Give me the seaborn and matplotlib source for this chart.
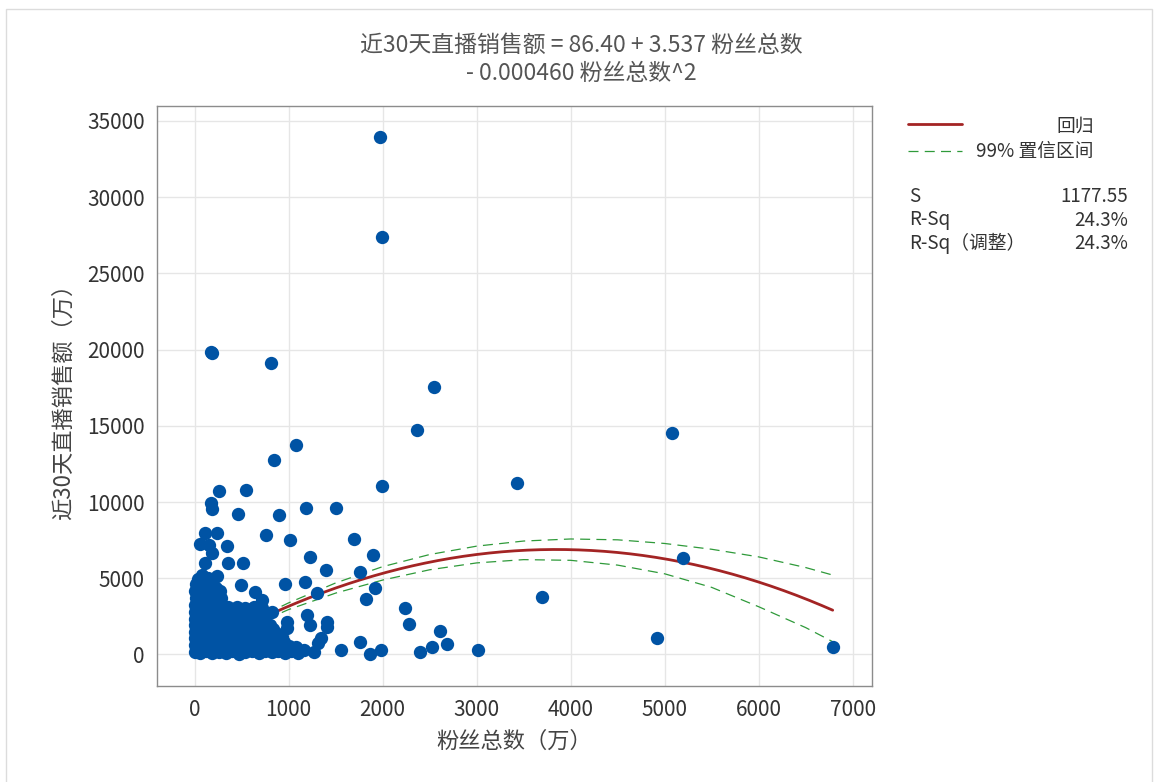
import numpy as np
import pandas as pd
import seaborn as sns
import matplotlib.pyplot as plt
from matplotlib.lines import Line2D
from matplotlib.patches import Rectangle

# scattered points (粉丝总数, 近30天直播销售额)
outlier_fans = [1971, 1992, 170, 182, 812, 2542, 2368, 5074, 1081, 844,
                3429, 1989, 255, 543, 170, 187, 457, 900, 1184, 1500,
                110, 234, 755, 1010, 1698, 56, 150, 345, 181, 1227,
                1900, 5191, 110, 357, 510, 1393, 1759, 74, 237, 496,
                964, 1170, 1918, 638, 1298, 1826, 716, 3698, 2241, 1191,
                2283, 1227, 982, 1404, 1411, 2610, 1340, 1315, 929, 1759,
                4915, 2687, 2521, 2397, 3017, 1556, 1865, 1982, 6787, 822,
                980]
outlier_sales = [33950, 27390, 19830, 19760, 19120, 17530, 14705, 14510, 13720, 12755,
                 11225, 11070, 10740, 10790, 9950, 9560, 9230, 9150, 9590, 9600,
                 7950, 8000, 7835, 7540, 7550, 7250, 7180, 7120, 6640, 6400,
                 6520, 6305, 6000, 5980, 5980, 5520, 5410, 5210, 5120, 4560,
                 4620, 4720, 4380, 4115, 4000, 3660, 3570, 3750, 3045, 2590,
                 2000, 1900, 2145, 2150, 1820, 1560, 1090, 725, 1160, 835,
                 1095, 670, 505, 140, 290, 290, 25, 290, 505, 2800,
                 1730]

# the dense block of small accounts near the origin
cluster_fans = [0, 60, 120, 190, 260, 330, 400, 470, 540, 610, 680, 750, 820, 890, 960, 1030, 1100, 1160, 1270,
                30, 100, 170, 240, 310, 380, 450, 520, 590, 660, 730, 800, 870, 940, 1010,
                0, 70, 140, 210, 280, 350, 420, 490, 560, 630, 700, 770, 840, 910, 1000, 1080,
                40, 110, 190, 260, 340, 410, 490, 560, 640, 710, 790, 870, 950,
                0, 75, 150, 225, 300, 375, 450, 525, 600, 675, 750, 830, 910,
                40, 120, 200, 280, 360, 440, 520, 600, 680, 760, 840,
                0, 80, 160, 240, 320, 400, 480, 560, 640, 720, 800, 870,
                40, 120, 200, 280, 360, 440, 520, 600, 680, 760, 830,
                0, 80, 160, 240, 320, 400, 480, 560, 640, 720, 800,
                40, 120, 200, 280, 360, 440, 520, 600, 680, 760,
                0, 80, 160, 240, 320, 400, 480, 560, 640, 720,
                40, 120, 200, 280, 360, 440, 520, 600, 680,
                0, 80, 160, 240, 320, 400, 480, 560, 640, 700,
                360, 450, 540, 630, 720,
                0, 90, 180, 270,
                50, 140, 230,
                10, 100, 190, 280,
                50, 150, 240,
                0, 90, 180, 270,
                60, 150, 230,
                20, 110, 200,
                40, 140]
cluster_sales = [150, 80, 200, 120, 180, 100, 220, 60, 160, 240, 90, 200, 130, 250, 110, 200, 90, 290, 180,
                 380, 350, 400, 330, 390, 360, 340, 400, 350, 380, 330, 390, 360, 340, 370,
                 600, 520, 580, 500, 620, 540, 600, 520, 580, 500, 610, 540, 580, 500, 560, 480,
                 800, 820, 780, 810, 790, 820, 780, 800, 830, 790, 810, 780, 800,
                 1050, 980, 1020, 960, 1040, 990, 1020, 960, 1050, 990, 1010, 960, 1000,
                 1230, 1250, 1210, 1240, 1220, 1260, 1230, 1210, 1250, 1230, 1220,
                 1450, 1500, 1420, 1480, 1400, 1460, 1500, 1420, 1480, 1440, 1500, 1420,
                 1680, 1700, 1660, 1710, 1690, 1670, 1700, 1680, 1660, 1700, 1690,
                 1900, 1950, 1880, 1920, 1950, 1880, 1920, 1960, 1880, 1920, 1900,
                 2130, 2150, 2110, 2140, 2160, 2120, 2150, 2130, 2110, 2140,
                 2350, 2300, 2380, 2320, 2400, 2340, 2300, 2380, 2320, 2360,
                 2580, 2570, 2600, 2560, 2590, 2580, 2600, 2570, 2590,
                 2800, 2760, 2840, 2780, 2820, 2760, 2840, 2800, 2760, 2850,
                 3080, 3120, 3050, 3100, 3060,
                 3250, 3300, 3220, 3280,
                 3480, 3470, 3500,
                 3700, 3650, 3720, 3680,
                 3930, 3920, 3950,
                 4150, 4200, 4120, 4180,
                 4380, 4400, 4370,
                 4600, 4650, 4580,
                 4950, 5000]

# fitted model from the title
coef = [-0.000460, 3.537, 86.40]

# 99% confidence band, read at a few x positions
ci_fans = [0, 500, 1000, 1500, 2000, 2500, 3000, 3500, 4000, 4500, 5000, 5500, 6000, 6500, 6780]
ci_upper = [270, 1890, 3385, 4690, 5760, 6555, 7105, 7440, 7575, 7520, 7280, 6900, 6400, 5700, 5220]
ci_lower = [-100, 1590, 2945, 4025, 4880, 5555, 6005, 6220, 6175, 5860, 5290, 4400, 3130, 1760, 860]

stats_names = ['S', 'R-Sq', 'R-Sq（调整）']
stats_values = ['1177.55', '24.3%', '24.3%']

sns.set_theme(style='whitegrid')
plt.rcParams['font.family'] = ['Noto Sans CJK SC', 'DejaVu Sans']

df = pd.DataFrame({'fans': outlier_fans + cluster_fans,
                   'sales': outlier_sales + cluster_sales})

xs = np.linspace(df['fans'].min(), df['fans'].max(), 300)
fit = pd.DataFrame({'fans': xs, 'sales': np.polyval(coef, xs)})
band = pd.DataFrame({'fans': ci_fans, 'upper': ci_upper, 'lower': ci_lower})

fig = plt.figure(figsize=(11.58, 7.82), dpi=100)
ax = fig.add_axes([157 / 1158, 1 - 686 / 782, 715 / 1158, 580 / 782])

red = '#a32424'
green = '#2f9a3a'
blue = '#0053a4'

sns.lineplot(data=fit, x='fans', y='sales', color=red, lw=2, ax=ax, zorder=2)
for col in ['upper', 'lower']:
    sns.lineplot(data=band, x='fans', y=col, color=green, lw=0.9,
                 linestyle=(0, (8, 5)), ax=ax, zorder=2)
sns.scatterplot(data=df, x='fans', y='sales', color=blue, s=92,
                linewidth=0, alpha=1, ax=ax, zorder=3)

ax.set_xlim(-400, 7205)
ax.set_ylim(-2070, 35980)
ax.set_xticks(range(0, 7001, 1000))
ax.set_yticks(range(0, 35001, 5000))
ax.grid(color='#e6e6e6', lw=1)
for s in ax.spines.values():
    s.set_color('#8c8c8c')
    s.set_linewidth(1)
ax.tick_params(length=6, width=1, color='#8c8c8c', labelsize=15,
               labelcolor='#333333', pad=3)

ax.set_xlabel('粉丝总数（万）', fontsize=16, color='#444444', labelpad=7)
ax.set_ylabel('近30天直播销售额（万）', fontsize=16, color='#444444', labelpad=9)

fig.text(0.502, 1 - 45 / 782, '近30天直播销售额 = 86.40 + 3.537 粉丝总数',
         ha='center', va='center', fontsize=16.5, color='#555555')
fig.text(0.502, 1 - 73 / 782, '- 0.000460 粉丝总数^2',
         ha='center', va='center', fontsize=16.5, color='#555555')

# legend drawn by hand, Minitab style
def fx(p):
    return p / 1158

def fy(p):
    return 1 - p / 782

fig.add_artist(Line2D([fx(908), fx(962)], [fy(124), fy(124)], color=red, lw=2))
fig.add_artist(Line2D([fx(908), fx(962)], [fy(151), fy(151)], color=green, lw=0.9,
                      linestyle=(0, (8, 5))))
fig.text(fx(1094), fy(126), '回归', ha='right', va='center', fontsize=13.5, color='#333333')
fig.text(fx(1094), fy(151), '99% 置信区间', ha='right', va='center', fontsize=13.5, color='#333333')
for i, (n, v) in enumerate(zip(stats_names, stats_values)):
    y = fy(197 + 23 * i)
    fig.text(fx(909), y, n, ha='left', va='center', fontsize=13.5, color='#333333')
    fig.text(fx(1128), y, v, ha='right', va='center', fontsize=13.5, color='#333333')

fig.add_artist(Rectangle((fx(6), -0.1), fx(1146), 1.1 - 9 / 782,
                         transform=fig.transFigure, fill=False,
                         edgecolor='#dcdcdc', lw=1))

fig.savefig('out.png', dpi=100)
